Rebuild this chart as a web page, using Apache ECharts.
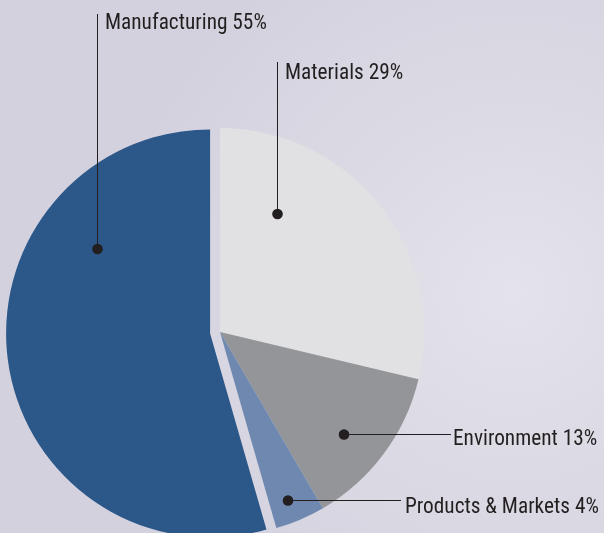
<!DOCTYPE html>
<html>
<head>
<meta charset="utf-8">
<script src="https://cdn.jsdelivr.net/npm/echarts@6/dist/echarts.min.js"></script>
<style>
html,body{margin:0;padding:0;}
#chart{width:604px;height:533px;}
</style>
</head>
<body>
<div id="chart"></div>
<script>
const categories = ['Materials', 'Environment', 'Products & Markets', 'Manufacturing'];
const values = [29, 13, 4, 55];
const sliceColors = ['#e1e1e4', '#939598', '#6f88b0', '#2b5789'];

// label layout (pixels): dot anchor, line end, text position
const labelSpots = {
  'Manufacturing':      { dot: [97.5, 249],  end: [97.5, 14],   text: [105, 24] },
  'Materials':          { dot: [277.5, 214], end: [277.5, 62],  text: [285, 74] },
  'Environment':        { dot: [344, 434.5], end: [451, 434.5], text: [453, 439.5] },
  'Products & Markets': { dot: [288, 500.5], end: [401, 500.5], text: [405, 507.5] }
};

const chart = echarts.init(document.getElementById('chart'), null, { renderer: 'canvas' });

const data = categories.map((name, i) => ({
  name: name,
  value: values[i],
  selected: name === 'Manufacturing',
  itemStyle: { color: sliceColors[i] },
  select: { itemStyle: { color: sliceColors[i] }, label: { show: false } }
}));

const fontFamily = '"Liberation Sans Narrow", "Arial Narrow", "Roboto Condensed", "Liberation Sans", sans-serif';
const ink = '#231f20';

const graphics = [];
categories.forEach((name, i) => {
  const s = labelSpots[name];
  graphics.push({
    type: 'polyline',
    shape: { points: [s.dot, s.end] },
    style: { stroke: ink, lineWidth: 1, fill: null },
    z: 100
  });
  graphics.push({
    type: 'circle',
    shape: { cx: s.dot[0], cy: s.dot[1], r: 5.3 },
    style: { fill: ink },
    z: 101
  });
  graphics.push({
    type: 'text',
    x: s.text[0],
    y: s.text[1],
    style: {
      text: name + ' ' + values[i] + '%',
      fill: ink,
      font: '21.3px ' + fontFamily,
      textAlign: 'left',
      textVerticalAlign: 'middle'
    },
    z: 101
  });
});

chart.setOption({
  animation: false,
  backgroundColor: {
    type: 'radial', x: 0.85, y: 0.55, r: 0.75,
    colorStops: [
      { offset: 0, color: '#e4e3eb' },
      { offset: 0.5, color: '#dbdae4' },
      { offset: 1, color: '#d3d1de' }
    ]
  },
  series: [{
    type: 'pie',
    center: [220, 332],
    radius: [0, 204],
    startAngle: 90,
    clockwise: true,
    selectedMode: 'single',
    selectedOffset: 10,
    emphasis: { disabled: true },
    itemStyle: { borderWidth: 0 },
    label: { show: false },
    labelLine: { show: false },
    data: data
  }],
  graphic: graphics
});
</script>
</body>
</html>
